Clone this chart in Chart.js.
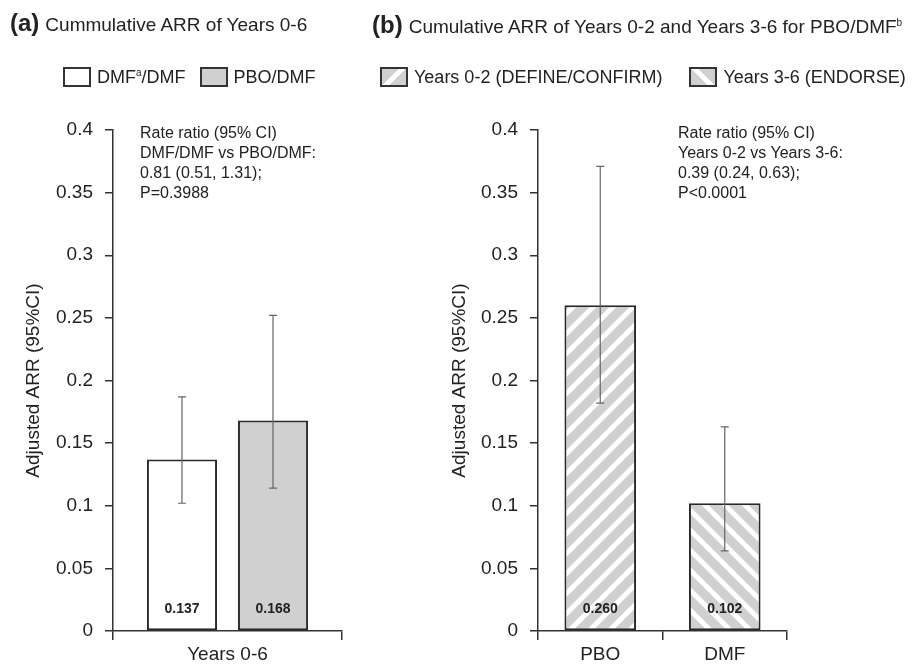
<!DOCTYPE html>
<html>
<head>
<meta charset="utf-8">
<script src="https://cdn.jsdelivr.net/npm/chart.js@4.4.1/dist/chart.umd.min.js"></script>
<style>
  body { margin: 0; background: #fff; font-family: "Liberation Sans", Arial, sans-serif; color: #222; }
  #wrap { position: relative; width: 917px; height: 668px; overflow: hidden; }
  canvas { position: absolute; top: 0; }
  .title { position: absolute; top: 8px; white-space: nowrap; line-height: 30px; }
  .title b { font-size: 24px; margin-right: 6px; }
  .title span { font-size: 19px; }
  .legend { position: absolute; top: 67px; height: 20px; display: flex; align-items: center; font-size: 18px; white-space: nowrap; }
  .box { width: 28px; height: 20px; box-sizing: border-box; border: 2px solid #333; margin-right: 6px; }
  .note { position: absolute; top: 123px; font-size: 16px; line-height: 20px; white-space: nowrap; }
  sup { font-size: 10px; vertical-align: 7px; }
</style>
</head>
<body>
<div id="wrap">
  <canvas id="chartA" width="420" height="668" style="left:0;width:420px;height:668px"></canvas>
  <canvas id="chartB" width="497" height="668" style="left:420px;width:497px;height:668px"></canvas>

  <div class="title" style="left:10px"><b>(a)</b><span>Cummulative ARR of Years 0-6</span></div>
  <div class="title" style="left:372px"><b>(b)</b><span>Cumulative ARR of Years 0-2 and Years 3-6 for PBO/DMF<sup>b</sup></span></div>

  <div class="legend" style="left:63px">
    <div class="box" style="background:#fff"></div><span>DMF<sup>a</sup>/DMF</span>
    <div class="box" style="background:#d0d0d0;margin-left:14px"></div><span>PBO/DMF</span>
  </div>
  <div class="legend" style="left:380px">
    <div class="box" style="background:linear-gradient(135deg,#d0d0d0 42%,#fff 42%,#fff 58%,#d0d0d0 58%)"></div><span>Years 0-2 (DEFINE/CONFIRM)</span>
    <div class="box" style="background:linear-gradient(45deg,#d0d0d0 42%,#fff 42%,#fff 58%,#d0d0d0 58%);margin-left:27px"></div><span>Years 3-6 (ENDORSE)</span>
  </div>

  <div class="note" style="left:140px">Rate ratio (95% CI)<br>DMF/DMF vs PBO/DMF:<br>0.81 (0.51, 1.31);<br>P=0.3988</div>
  <div class="note" style="left:678px">Rate ratio (95% CI)<br>Years 0-2 vs Years 3-6:<br>0.39 (0.24, 0.63);<br>P&lt;0.0001</div>
</div>

<script>
// dati
const catsA = ["Years 0-6"];
const dmfDmf = [0.137];
const dmfDmfLow = [0.102];
const dmfDmfHigh = [0.187];
const pboDmf = [0.168];
const pboDmfLow = [0.114];
const pboDmfHigh = [0.252];

const catsB = ["PBO", "DMF"];
const arrB = [0.260, 0.102];
const arrBLow = [0.182, 0.064];
const arrBHigh = [0.371, 0.163];

const yMin = 0;
const yMax = 0.4;
const yStep = 0.05;

Chart.defaults.font.family = '"Liberation Sans", Arial, sans-serif';
Chart.defaults.color = "#222";

// pattern a righe diagonali
function stripes(ctx, up) {
  const c = document.createElement("canvas");
  c.width = 20;
  c.height = 20;
  const p = c.getContext("2d");
  p.fillStyle = "#d0d0d0";
  p.fillRect(0, 0, 20, 20);
  p.strokeStyle = "#fff";
  p.lineWidth = 5;
  const segs = up
    ? [[0, 20, 20, 0], [-10, 10, 10, -10], [10, 30, 30, 10]]
    : [[0, 0, 20, 20], [-10, 10, 10, 30], [10, -10, 30, 10]];
  segs.forEach(function (s) {
    p.beginPath();
    p.moveTo(s[0], s[1]);
    p.lineTo(s[2], s[3]);
    p.stroke();
  });
  return ctx.createPattern(c, "repeat");
}

// barre di errore + etichette valore
const errorBars = {
  id: "errorBars",
  afterDatasetsDraw(chart) {
    const ctx = chart.ctx;
    const y = chart.scales.y;
    ctx.save();
    chart.data.datasets.forEach(function (ds, i) {
      const meta = chart.getDatasetMeta(i);
      meta.data.forEach(function (bar, j) {
        const hi = y.getPixelForValue(ds.high[j]);
        const lo = y.getPixelForValue(ds.low[j]);
        ctx.strokeStyle = "#666";
        ctx.lineWidth = 1.2;
        ctx.beginPath();
        ctx.moveTo(bar.x, hi);
        ctx.lineTo(bar.x, lo);
        ctx.moveTo(bar.x - 4, hi);
        ctx.lineTo(bar.x + 4, hi);
        ctx.moveTo(bar.x - 4, lo);
        ctx.lineTo(bar.x + 4, lo);
        ctx.stroke();
        ctx.fillStyle = "#222";
        ctx.font = 'bold 14px "Liberation Sans", Arial, sans-serif';
        ctx.textAlign = "center";
        ctx.textBaseline = "middle";
        ctx.fillText(ds.data[j].toFixed(3), bar.x, y.getPixelForValue(0) - 22);
      });
    });
    ctx.restore();
  },
};

function makeOptions(yWidth, titlePad, padRight, catPct, barPct) {
  return {
    responsive: false,
    animation: false,
    layout: { padding: { top: 130, right: padRight, bottom: 0, left: 0 } },
    plugins: { legend: { display: false }, tooltip: { enabled: false } },
    datasets: { bar: { categoryPercentage: catPct, barPercentage: barPct } },
    scales: {
      x: {
        offset: true,
        afterFit: function (s) { s.height = 37; },
        grid: { offset: true, drawOnChartArea: false, tickLength: 9, color: "#333", lineWidth: 1.5 },
        border: { color: "#333", width: 1.5 },
        ticks: { font: { size: 19 }, color: "#222", padding: 3 },
      },
      y: {
        min: yMin,
        max: yMax,
        afterFit: function (s) { s.width = yWidth; },
        grid: { drawOnChartArea: false, tickLength: 8, color: "#333", lineWidth: 1.5 },
        border: { color: "#333", width: 1.5 },
        ticks: {
          stepSize: yStep,
          padding: 12,
          font: { size: 19 },
          color: "#222",
          callback: function (v) { return String(+v.toFixed(2)); },
        },
        title: {
          display: true,
          text: "Adjusted ARR (95%CI)",
          font: { size: 19 },
          color: "#222",
          padding: { top: 20 + titlePad, bottom: 0 },
        },
      },
    },
  };
}

const ctxA = document.getElementById("chartA").getContext("2d");
new Chart(ctxA, {
  type: "bar",
  data: {
    labels: catsA,
    datasets: [
      {
        label: "DMF/DMF",
        data: dmfDmf,
        low: dmfDmfLow,
        high: dmfDmfHigh,
        backgroundColor: "#fff",
        borderColor: "#2a2a2a",
        borderWidth: 2,
        borderSkipped: false,
      },
      {
        label: "PBO/DMF",
        data: pboDmf,
        low: pboDmfLow,
        high: pboDmfHigh,
        backgroundColor: "#d0d0d0",
        borderColor: "#2a2a2a",
        borderWidth: 2,
        borderSkipped: false,
      },
    ],
  },
  options: makeOptions(113, 2, 78, 0.795, 0.77),
  plugins: [errorBars],
});

const ctxB = document.getElementById("chartB").getContext("2d");
new Chart(ctxB, {
  type: "bar",
  data: {
    labels: catsB,
    datasets: [
      {
        label: "ARR",
        data: arrB,
        low: arrBLow,
        high: arrBHigh,
        backgroundColor: [stripes(ctxB, true), stripes(ctxB, false)],
        borderColor: "#2a2a2a",
        borderWidth: 2,
        borderSkipped: false,
      },
    ],
  },
  options: makeOptions(118, 8, 130, 1, 0.575),
  plugins: [errorBars],
});
</script>
</body>
</html>
